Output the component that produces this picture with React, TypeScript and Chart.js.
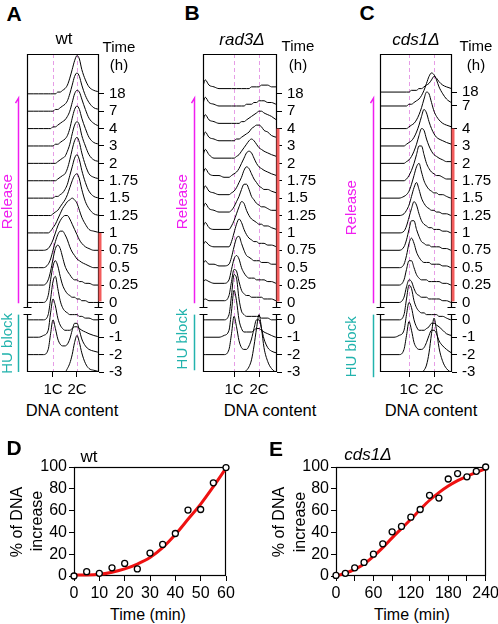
import React, { useEffect, useRef } from 'react';
import { Chart, registerables } from 'chart.js';
Chart.register(...registerables);

const FONT = 'Arial, "Liberation Sans", Helvetica, sans-serif';
Chart.defaults.font.family = FONT;

const MAGENTA = '#f01ef0';
const TEAL = '#22b3ad';
const PINK = '#e69de6';
const RED_BAR = '#f35c5c';
const FIT_RED = '#ee1111';

// DNA content grid (in units of C) on which every histogram trace is sampled
const DNA_GRID = [-0.3, -0.15, 0, 0.2, 0.4, 0.6, 0.8, 0.9, 1.0, 1.1, 1.2, 1.3, 1.4, 1.5, 1.6, 1.7, 1.8, 1.9, 2.0, 2.1, 2.2, 2.35, 2.5, 2.7, 3.0];

// time labels (bottom to top)
const TIME_LABELS = ['-3', '-2', '-1', '0', '0', '0.25', '0.5', '0.75', '1', '1.25', '1.5', '1.75', '2', '3', '4', '7', '18'];
const ROWS_AB = [0, 1, 2, 3, 4, 5, 6, 7, 8, 9, 10, 11, 12, 13, 14, 15, 16];
const ROWS_C = [0, 1, 2, 3, 4, 5, 6, 7, 8, 9, 10, 11, 12, 13, 14, 15.3, 16.1];

// ---- Panel A (wt) traces, heights in tenths of a row ----
const A_M3 = [0,0,0,0,0,0,0,0,0,0,0,0,0,0,2,5,10,17,21,17,11,5,2,1,0];
const A_M2 = [0,0,0,0,0,0,3,12,20,15,9,6,5,5,6,9,14,18,18,14,9,5,3,2,1];
const A_M1 = [0,0,0,0,0,1,4,14,22,18,11,7,5,4,4,4,5,6,6,5,4,3,2,1,0];
const A_H0 = [0,0,0,0,0,0,3,12,22,25,18,11,7,5,4,3,3,3,3,2,2,1,1,0,0];
const A_R0 = [0,0,0,0,0,0,4,13,21,24,21,15,10,7,5,4,3,3,2,2,1,1,0,0,0];
const A_R025 = [0,0,0,0,0,0,3,8,15,21,23,21,16,11,8,6,4,3,3,2,2,1,1,0,0];
const A_R05 = [0,0,0,0,0,0,2,5,10,15,19,21,21,19,16,12,9,7,5,4,3,2,1,0,0];
const A_R075 = [0,0,0,0,0,0,1,3,6,10,14,17,19,20,20,18,15,12,9,6,4,2,1,0,0];
const A_R1 = [0,0,0,0,0,0,0,1,3,5,8,11,14,16,18,19,20,19,17,13,9,5,2,1,0];
const A_R125 = [0,0,0,0,0,0,0,0,1,2,3,5,7,9,12,16,20,23,24,21,15,8,4,1,0];
const A_R15 = [0,0,0,0,0,0,0,0,0,1,1,2,3,5,8,13,18,23,25,22,16,9,4,1,0];
const A_R175 = [0,0,0,0,0,0,0,0,0,0,1,2,3,4,7,12,18,23,25,22,16,9,4,2,1];
const A_R2 = [0,0,0,0,0,0,0,0,0,0,1,2,3,4,7,11,17,22,24,22,16,10,5,2,1];
const A_R3 = [0,0,0,0,0,0,0,0,0,1,1,2,3,4,6,10,16,21,23,21,16,10,5,2,1];
const A_R4 = [0,0,0,0,0,0,0,0,1,1,2,3,4,5,7,10,15,20,22,21,17,11,6,3,1];
const A_R7 = [0,0,0,0,0,0,0,0,0,1,1,2,3,4,6,10,15,20,22,20,15,9,5,2,1];
const A_R18 = [0,0,0,0,0,0,0,0,0,0,1,1,2,3,5,9,14,19,22,20,14,8,4,2,1];

// ---- Panel B (rad3Δ) ----
const B_M3 = [0,0,0,0,0,0,0,0,0,0,0,0,0,1,3,7,15,25,33,25,14,6,2,0,0];
const B_M2 = [0,0,0,0,0,0,3,12,22,16,8,4,3,3,5,9,15,20,20,15,9,4,2,1,0];
const B_M1 = [0,0,0,0,0,1,4,15,27,21,10,5,3,3,3,3,4,5,5,4,3,2,1,0,0];
const B_H0 = [0,0,0,0,0,0,3,14,26,24,12,5,3,2,2,2,2,2,2,1,1,1,0,0,0];
const B_R0 = [0,2,1,1,1,1,4,12,19,18,12,7,5,4,4,3,3,3,3,3,2,2,2,1,1];
const B_R025 = [0,3,2,1,1,1,3,9,15,17,15,10,7,5,4,4,4,3,3,3,3,2,2,1,1];
const B_R05 = [0,4,2,2,1,1,2,6,12,17,18,14,10,7,6,5,4,4,4,3,3,3,2,2,1];
const B_R075 = [0,5,3,2,2,2,2,5,10,15,18,16,12,9,7,6,5,5,4,4,4,3,3,2,1];
const B_R1 = [0,6,3,2,2,2,2,4,7,11,15,18,17,13,10,8,7,6,5,5,4,4,3,2,1];
const B_R125 = [0,7,4,3,2,2,2,3,5,8,11,15,18,18,15,11,9,7,6,5,5,4,3,3,2];
const B_R15 = [0,7,4,3,2,2,2,3,4,6,9,12,16,18,17,14,11,9,7,6,5,5,4,3,2];
const B_R175 = [0,7,4,3,3,2,2,3,4,5,7,10,13,16,17,16,13,10,8,7,6,5,4,3,2];
const B_R2 = [0,8,5,3,3,3,3,3,3,4,5,7,9,11,13,14,13,11,9,8,7,6,5,4,3];
const B_R3 = [0,8,5,4,3,3,3,3,3,4,4,5,6,7,8,10,11,12,12,11,9,8,6,5,4];
const B_R4 = [0,8,5,4,3,3,3,3,3,3,3,4,4,5,6,7,8,9,10,10,9,8,7,5,4];
const B_R7 = [0,8,5,4,3,3,3,3,3,3,3,3,3,4,4,4,5,5,6,6,6,5,5,4,4];
const B_R18 = [0,8,5,4,3,3,3,3,3,3,3,3,3,3,3,4,4,4,4,5,5,5,4,4,4];

// ---- Panel C (cds1Δ) ----
const C_M3 = [0,0,0,0,0,0,0,0,0,0,0,0,0,0,1,4,11,22,31,24,14,6,2,0,0];
const C_M2 = [0,0,0,0,0,0,3,11,19,14,7,4,3,3,4,7,11,14,14,12,8,5,3,1,0];
const C_M1 = [0,0,0,0,0,1,4,13,20,17,10,6,4,4,4,5,6,8,8,7,6,4,2,1,0];
const C_H0 = [0,0,0,0,0,0,3,12,20,18,11,7,5,4,4,3,3,3,3,3,2,2,1,0,0];
const C_R0 = [0,0,0,0,0,0,3,9,13,12,8,5,4,3,3,3,2,2,2,2,2,1,1,0,0];
const C_R025 = [0,0,0,0,0,0,3,9,14,14,10,6,4,3,3,3,2,2,2,2,2,1,1,0,0];
const C_R05 = [0,0,0,0,0,0,2,7,14,17,14,9,6,4,3,3,3,2,2,2,2,1,1,0,0];
const C_R075 = [0,0,0,0,0,0,2,6,12,17,17,12,8,5,4,3,3,2,2,2,2,1,1,0,0];
const C_R1 = [0,0,0,0,0,0,1,4,9,14,18,16,11,7,5,4,3,3,2,2,2,1,1,0,0];
const C_R125 = [0,0,0,0,0,0,1,3,6,11,16,19,15,10,7,5,4,3,3,2,2,1,1,0,0];
const C_R15 = [0,0,0,0,0,0,1,2,4,8,13,18,20,15,10,7,5,4,3,3,2,2,1,0,0];
const C_R175 = [0,0,0,0,0,0,0,1,3,6,10,15,20,20,15,10,7,5,4,3,3,2,1,1,0];
const C_R2 = [0,0,0,0,0,0,0,1,2,4,7,11,16,20,19,14,10,7,5,4,3,2,1,1,0];
const C_R3 = [0,0,0,0,0,0,0,1,2,3,5,8,12,17,21,19,14,10,7,5,4,3,2,1,0];
const C_R4 = [0,0,0,0,0,0,0,0,1,2,3,5,8,12,17,21,20,15,10,7,5,3,2,1,0];
const C_R7 = [0,0,0,0,0,0,0,0,1,1,2,3,4,6,9,13,17,19,18,15,11,7,4,2,1];
const C_R18 = [0,0,0,0,0,0,0,0,0,1,1,1,2,2,3,4,5,7,9,8,6,4,3,2,1];

const A_TRACES = [A_M3, A_M2, A_M1, A_H0, A_R0, A_R025, A_R05, A_R075, A_R1, A_R125, A_R15, A_R175, A_R2, A_R3, A_R4, A_R7, A_R18];
const B_TRACES = [B_M3, B_M2, B_M1, B_H0, B_R0, B_R025, B_R05, B_R075, B_R1, B_R125, B_R15, B_R175, B_R2, B_R3, B_R4, B_R7, B_R18];
const C_TRACES = [C_M3, C_M2, C_M1, C_H0, C_R0, C_R025, C_R05, C_R075, C_R1, C_R125, C_R15, C_R175, C_R2, C_R3, C_R4, C_R7, C_R18];

// ---- Panel D (wt) ----
const D_TIME = [0, 5, 10, 15, 20, 25, 30, 35, 40, 45, 50, 55, 60];
const D_PCT = [0, 4, 2.5, 7.5, 11.5, 6.5, 21, 29, 39, 60.5, 61, 85.5, 99.5];
const D_FIT = [1, 1, 1.5, 3.5, 6.5, 11, 17, 26, 38, 52, 66, 82, 99];

// ---- Panel E (cds1Δ) ----
const E_TIME = [0, 15, 30, 45, 60, 75, 90, 105, 120, 135, 150, 165, 180, 195, 210, 225, 240];
const E_PCT = [0.5, 2.5, 7.5, 12.5, 20, 29.5, 40.5, 45.5, 54, 61, 74, 71.5, 89, 94, 91, 96, 100];
const E_FIT = [0, 2.5, 6, 11, 18, 26, 35, 43.5, 52, 61, 69.5, 76.5, 82.5, 87.5, 91.5, 95, 98.5];

const YMAX_H = 18.29;

type HistProps = {
  l: number; t: number; w: number; h: number;
  xmin: number; xmax: number;
  rows: number[]; traces: number[][];
  redFrom: number;
  relOff: number; textOff: number;
  relMid: number; huMid: number; huBottom: number;
};

function HistPanel(p: HistProps) {
  const ref = useRef<HTMLCanvasElement>(null);
  const ML = 40, MT = 12, MR = 46, MB = 24;
  const cw = ML + p.w + MR, ch = MT + p.h + MB;
  useEffect(() => {
    const datasets = p.traces.map((tr, i) => ({
      data: tr.map((v, j) => ({ x: DNA_GRID[j], y: p.rows[i] + v / 10 })),
      borderColor: '#000', borderWidth: 1, pointRadius: 0, fill: false,
      cubicInterpolationMode: 'monotone' as const,
    }));
    const deco = {
      id: 'deco',
      beforeDatasetsDraw(chart: any) {
        const { ctx, chartArea: a, scales } = chart;
        ctx.save();
        ctx.strokeStyle = PINK; ctx.lineWidth = 1; ctx.setLineDash([4, 3]);
        for (const c of [1, 2]) {
          const px = Math.round(scales.x.getPixelForValue(c)) + 0.5;
          ctx.beginPath(); ctx.moveTo(px, a.top); ctx.lineTo(px, a.bottom); ctx.stroke();
        }
        ctx.restore();
      },
      afterDatasetsDraw(chart: any) {
        const { ctx, chartArea: a, scales } = chart;
        const ys = scales.y;
        const L = Math.round(a.left) + 0.5, R = Math.round(a.right) - 0.5;
        const T = Math.round(a.top) + 0.5, B = Math.round(a.bottom) - 0.5;
        const yb1 = Math.round(ys.getPixelForValue(3.72)) + 0.5;
        const yb2 = Math.round(ys.getPixelForValue(3.32)) + 0.5;
        ctx.save();
        ctx.strokeStyle = '#000'; ctx.lineWidth = 1.2;
        ctx.beginPath();
        ctx.moveTo(L, yb2); ctx.lineTo(L, B); ctx.lineTo(R, B); ctx.lineTo(R, yb2);
        ctx.moveTo(L, yb1); ctx.lineTo(L, T); ctx.lineTo(R, T); ctx.lineTo(R, yb1);
        for (const y of [yb1, yb2]) {
          ctx.moveTo(L - 4, y); ctx.lineTo(L + 4, y);
          ctx.moveTo(R - 4, y); ctx.lineTo(R + 4, y);
        }
        ctx.stroke();
        // red bar
        ctx.strokeStyle = RED_BAR; ctx.lineWidth = 3;
        ctx.beginPath();
        ctx.moveTo(R + 1.5, ys.getPixelForValue(p.redFrom));
        ctx.lineTo(R + 1.5, ys.getPixelForValue(4) - 1);
        ctx.stroke();
        // release / HU block brackets
        const rx = Math.round(a.left - p.relOff) + 0.5;
        const yTop = ys.getPixelForValue(15.75);
        ctx.lineWidth = 1.5;
        ctx.strokeStyle = MAGENTA;
        ctx.beginPath();
        ctx.moveTo(rx - 3, yTop + 5); ctx.lineTo(rx, yTop); ctx.lineTo(rx, ys.getPixelForValue(3.95));
        ctx.stroke();
        ctx.strokeStyle = TEAL;
        ctx.beginPath();
        ctx.moveTo(rx, ys.getPixelForValue(3.3)); ctx.lineTo(rx, ys.getPixelForValue(p.huBottom));
        ctx.stroke();
        ctx.font = `15px ${FONT}`;
        ctx.textAlign = 'center'; ctx.textBaseline = 'middle';
        const tx = a.left - p.textOff;
        ctx.fillStyle = MAGENTA;
        ctx.translate(tx, ys.getPixelForValue(p.relMid)); ctx.rotate(-Math.PI / 2);
        ctx.fillText('Release', 0, 0);
        ctx.setTransform(1, 0, 0, 1, 0, 0);
        ctx.fillStyle = TEAL;
        ctx.translate(tx, ys.getPixelForValue(p.huMid)); ctx.rotate(-Math.PI / 2);
        ctx.fillText('HU block', 0, 0);
        ctx.restore();
      },
    };
    const chart = new Chart(ref.current!, {
      type: 'line',
      data: { datasets } as any,
      options: {
        animation: false, responsive: false, events: [],
        layout: { padding: { left: ML, top: MT, right: 0, bottom: 0 } },
        plugins: { legend: { display: false }, tooltip: { enabled: false } },
        scales: {
          x: {
            type: 'linear', min: p.xmin, max: p.xmax,
            afterBuildTicks: (ax: any) => { ax.ticks = [{ value: 1 }, { value: 2 }]; },
            ticks: { callback: (v: any) => (v === 1 ? '1C' : '2C'), font: { size: 15 }, color: '#000', padding: 4, maxRotation: 0, autoSkip: false },
            grid: { drawOnChartArea: false, tickLength: 5, tickColor: '#000', tickWidth: 1 },
            border: { display: false },
            afterFit: (s: any) => { s.height = MB; },
          },
          y: {
            type: 'linear', position: 'right', min: 0, max: YMAX_H,
            afterBuildTicks: (ax: any) => { ax.ticks = p.rows.map((r) => ({ value: r })); },
            ticks: { callback: (_v: any, i: number) => TIME_LABELS[i], font: { size: 15 }, color: '#000', padding: 5, autoSkip: false },
            grid: { drawOnChartArea: false, tickLength: 5, tickColor: '#000', tickWidth: 1 },
            border: { display: false },
            afterFit: (s: any) => { s.width = MR; },
          },
        },
      } as any,
      plugins: [deco],
    });
    return () => chart.destroy();
  }, []);
  return (
    <canvas ref={ref} width={cw} height={ch}
      style={{ position: 'absolute', left: p.l - ML, top: p.t - MT, width: cw, height: ch }} />
  );
}

type FitProps = {
  l: number; t: number; w: number; h: number;
  xmax: number; step: number; labelStep: number;
  times: number[]; pct: number[]; fit: number[];
};

function FitPanel(p: FitProps) {
  const ref = useRef<HTMLCanvasElement>(null);
  const ML = 60, MT = 14, MR = 16, MB = 30;
  const cw = ML + p.w + MR, ch = MT + p.h + MB;
  useEffect(() => {
    const frame = {
      id: 'frame',
      beforeDatasetsDraw(chart: any) {
        const { ctx, chartArea: a } = chart;
        ctx.save();
        ctx.strokeStyle = '#000'; ctx.lineWidth = 1.2;
        ctx.strokeRect(Math.round(a.left) + 0.5, Math.round(a.top) + 0.5, Math.round(a.right - a.left) - 1, Math.round(a.bottom - a.top) - 1);
        ctx.restore();
      },
    };
    const chart = new Chart(ref.current!, {
      type: 'scatter',
      data: {
        datasets: [
          {
            data: p.times.map((t, i) => ({ x: t, y: p.pct[i] })),
            showLine: false, pointRadius: 3, pointBorderWidth: 1.3,
            pointBorderColor: '#000', pointBackgroundColor: '#fff', clip: false,
          },
          {
            data: p.times.map((t, i) => ({ x: t, y: p.fit[i] })),
            showLine: true, borderColor: FIT_RED, borderWidth: 3, pointRadius: 0,
            cubicInterpolationMode: 'monotone', clip: false,
          },
        ],
      } as any,
      options: {
        animation: false, responsive: false, events: [],
        layout: { padding: { left: 0, top: MT, right: MR, bottom: 0 } },
        plugins: { legend: { display: false }, tooltip: { enabled: false } },
        scales: {
          x: {
            type: 'linear', min: 0, max: p.xmax,
            ticks: { stepSize: p.step, callback: (v: any) => (v % p.labelStep === 0 ? String(v) : ''), font: { size: 16 }, color: '#000', padding: 3, maxRotation: 0, autoSkip: false },
            grid: { drawOnChartArea: false, tickLength: 5, tickColor: '#000' },
            border: { display: false },
            afterFit: (s: any) => { s.height = MB; },
          },
          y: {
            type: 'linear', min: 0, max: 100,
            ticks: { stepSize: 20, font: { size: 16 }, color: '#000', padding: 2, autoSkip: false },
            grid: { drawOnChartArea: false, tickLength: 5, tickColor: '#000' },
            border: { display: false },
            afterFit: (s: any) => { s.width = ML; },
          },
        },
      } as any,
      plugins: [frame],
    });
    return () => chart.destroy();
  }, []);
  return (
    <canvas ref={ref} width={cw} height={ch}
      style={{ position: 'absolute', left: p.l - ML, top: p.t - MT, width: cw, height: ch }} />
  );
}

function T(props: { x: number; y: number; s: number; b?: boolean; i?: boolean; rot?: boolean; c?: string; children: any }) {
  return (
    <div style={{
      position: 'absolute', left: props.x, top: props.y,
      transform: `translate(-50%, -50%)${props.rot ? ' rotate(-90deg)' : ''}`,
      fontSize: props.s, fontWeight: props.b ? 'bold' : 'normal', fontStyle: props.i ? 'italic' : 'normal',
      whiteSpace: 'nowrap', lineHeight: 1, color: props.c || '#000', fontFamily: FONT,
    }}>{props.children}</div>
  );
}

export default function App() {
  return (
    <div style={{ position: 'absolute', left: 0, top: 0, width: 498, height: 624, background: '#fff', overflow: 'hidden' }}>
      <HistPanel l={27} t={52} w={72} h={320} xmin={-0.083} xmax={2.917} rows={ROWS_AB} traces={A_TRACES}
        redFrom={8} relOff={9} textOff={19} relMid={9.8} huMid={1.65} huBottom={0} />
      <HistPanel l={203} t={52} w={74} h={320} xmin={-0.24} xmax={2.72} rows={ROWS_AB} traces={B_TRACES}
        redFrom={14} relOff={9} textOff={20} relMid={9.8} huMid={1.9} huBottom={0.1} />
      <HistPanel l={380} t={52} w={72} h={320} xmin={-0.16} xmax={2.72} rows={ROWS_C} traces={C_TRACES}
        redFrom={14} relOff={7} textOff={28} relMid={9.45} huMid={1.45} huBottom={-0.3} />
      <FitPanel l={74} t={467} w={152} h={109} xmax={60} step={10} labelStep={10} times={D_TIME} pct={D_PCT} fit={D_FIT} />
      <FitPanel l={336} t={467} w={150} h={109} xmax={240} step={30} labelStep={60} times={E_TIME} pct={E_PCT} fit={E_FIT} />

      <T x={14} y={13} s={21} b>A</T>
      <T x={192} y={12} s={21} b>B</T>
      <T x={367} y={12} s={21} b>C</T>
      <T x={64} y={38} s={17}>wt</T>
      <T x={242} y={39} s={17} i>rad3Δ</T>
      <T x={416} y={39} s={17} i>cds1Δ</T>
      <T x={119} y={46} s={15}>Time</T>
      <T x={119} y={64} s={15}>(h)</T>
      <T x={298} y={45} s={15}>Time</T>
      <T x={298} y={64} s={15}>(h)</T>
      <T x={476} y={45} s={15}>Time</T>
      <T x={476} y={64} s={15}>(h)</T>
      <T x={72} y={410} s={16.5}>DNA content</T>
      <T x={270} y={410} s={16.5}>DNA content</T>
      <T x={431} y={410} s={16.5}>DNA content</T>

      <T x={14} y={447} s={21} b>D</T>
      <T x={89} y={456} s={17}>wt</T>
      <T x={17} y={522} s={16} rot>% of DNA</T>
      <T x={37} y={521} s={16} rot>increase</T>
      <T x={148} y={615} s={16}>Time (min)</T>

      <T x={276} y={448} s={21} b>E</T>
      <T x={368} y={454} s={17} i>cds1Δ</T>
      <T x={279} y={522} s={16} rot>% of DNA</T>
      <T x={300} y={522} s={16} rot>increase</T>
      <T x={412} y={615} s={16}>Time (min)</T>
    </div>
  );
}
